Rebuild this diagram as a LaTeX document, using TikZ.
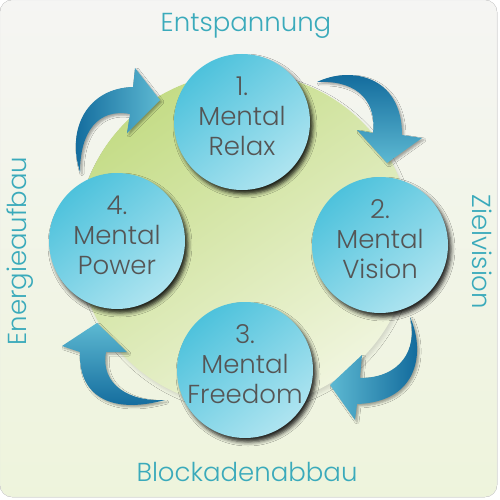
\documentclass[tikz,border=0pt]{standalone}
\usepackage{fontspec}
\setmainfont{Poppins Light}
\usetikzlibrary{shadows.blur}
\definecolor{bgtop}{HTML}{F5F5F3}
\definecolor{bgmid}{HTML}{DDE9BA}
\definecolor{bgbot}{HTML}{EEF4DC}
\definecolor{bigA}{HTML}{C4DC86}
\definecolor{bigM}{HTML}{D8E7AB}
\definecolor{bigB}{HTML}{F0F5DE}
\definecolor{cirA}{HTML}{4EC2DC}
\definecolor{cirB}{HTML}{AEE4F0}
\definecolor{txt}{HTML}{555555}
\definecolor{lab}{HTML}{3AAABB}
\definecolor{arrD}{HTML}{0C6498}
\definecolor{arrL}{HTML}{5DB9D2}
\tikzset{
  stage/.style={circle, minimum size=136pt, inner sep=0pt,
    top color=cirA, bottom color=cirB, shading angle=40,
    blur shadow={shadow xshift=3pt, shadow yshift=-4pt, shadow blur radius=4pt, shadow opacity=85}},
  stext/.style={text=txt, align=center, inner sep=0pt, font=\fontsize{26}{30}\selectfont},
  arrowshape/.style={blur shadow={shadow xshift=2pt, shadow yshift=-2pt, shadow blur radius=2pt, shadow opacity=35}},
  lbl/.style={text=lab, inner sep=0pt, font=\fontsize{26}{30}\selectfont},
}
\begin{document}
\begin{tikzpicture}[x=1pt,y=-1pt]
\useasboundingbox (0,0) rectangle (500,500);
\fill[white] (0,0) rectangle (500,500);
\fill[rounded corners=12pt, top color=bgtop, middle color=bgmid, bottom color=bgbot, draw=black!10] (0,0) rectangle (497,497);
% big circle
\path[top color=bigA, middle color=bigM, bottom color=bigB, shading angle=35,
  blur shadow={shadow xshift=2pt, shadow yshift=-3pt, shadow blur radius=3pt, shadow opacity=12}]
  (244,240) circle[radius=167pt];
% arrows
\path[arrowshape, left color=arrD, right color=arrL] (80,172) .. controls (66,128) and (88,88) .. (133,87) -- (135,68) -- (160,100) -- (127,133) -- (130,114) .. controls (98,108) and (80,132) .. (80,172) -- cycle;
\path[arrowshape, top color=arrD, bottom color=arrL] (317,82) .. controls (350,66) and (402,75) .. (402,135) -- (422,138) -- (387,163) -- (357,130) -- (373,133) .. controls (377,95) and (350,80) .. (317,82) -- cycle;
\path[arrowshape, left color=arrL, right color=arrD] (410,317) .. controls (425,350) and (420,402) .. (357,404) -- (355,420) -- (330,385) -- (362,355) -- (360,378) .. controls (400,378) and (418,350) .. (410,317) -- cycle;
\path[arrowshape, top color=arrL, bottom color=arrD] (165,400) .. controls (110,415) and (78,395) .. (80,352) -- (62,346) -- (97,323) -- (127,352) -- (106,352) .. controls (100,385) and (130,402) .. (165,400) -- cycle;
% stages
\node[stage] (c1) at (242,122) {};
\node[stage] (c2) at (380,245) {};
\node[stage] (c3) at (245,370) {};
\node[stage] (c4) at (117,241) {};
\node[stext] (t1) at ([yshift=6pt]c1.center) {1.\\Mental\\Relax};
\node[stext] (t2) at ([yshift=6pt]c2.center) {2.\\Mental\\Vision};
\node[stext] (t3) at ([yshift=6pt]c3.center) {3.\\Mental\\Freedom};
\node[stext] (t4) at ([yshift=6pt]c4.center) {4.\\Mental\\Power};
% labels
\node[lbl] (l1) at (246,26) {Entspannung};
\node[lbl, rotate=-90] (l2) at (482,252) {Zielvision};
\node[lbl] (l3) at (247,472) {Blockadenabbau};
\node[lbl, rotate=90] (l4) at (20,251) {Energieaufbau};
\end{tikzpicture}
\end{document}
